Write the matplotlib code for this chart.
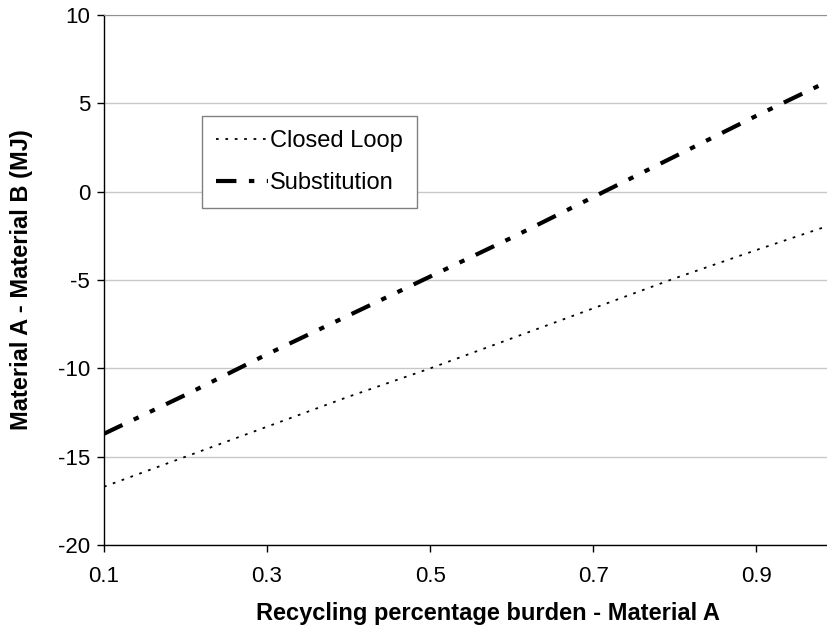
import matplotlib

matplotlib.use("Agg")
import matplotlib.pyplot as plt

plt.rcParams["font.family"] = ["Liberation Sans", "DejaVu Sans"]

# recycling percentage burden of material A
burden = [0.1, 0.2, 0.3, 0.4, 0.5, 0.6, 0.7, 0.8, 0.9, 0.99]
closed_loop = [-16.7, -15.0, -13.3, -11.6, -10.0, -8.3, -6.6, -4.9, -3.3, -1.9]
substitution = [-13.7, -11.5, -9.2, -7.0, -4.8, -2.6, -0.3, 2.0, 4.3, 6.3]

x_ticks = [0.1, 0.3, 0.5, 0.7, 0.9]
y_ticks = [-20, -15, -10, -5, 0, 5, 10]


def main():
    fig = plt.figure(figsize=(8.28, 6.33), dpi=100)
    ax = fig.add_axes([0.1256, 0.139, 0.8744, 0.837])

    ax.plot(burden, closed_loop, color="black", linewidth=1.3,
            linestyle=(0, (1.5, 3.7)), label="Closed Loop")
    ax.plot(burden, substitution, color="black", linewidth=3.0,
            linestyle=(0, (4.9, 3, 1.3, 3, 1.3, 3)), label="Substitution",
            dash_capstyle="butt")

    ax.set_xlim(0.1, 0.988)
    ax.set_ylim(-20, 10)
    ax.set_xticks(x_ticks)
    ax.set_xticklabels([f"{v:.1f}" for v in x_ticks])
    ax.set_yticks(y_ticks)
    ax.set_yticklabels([str(v) for v in y_ticks])

    ax.grid(axis="y", color="#c8c8c8", linewidth=1.0)
    ax.set_axisbelow(True)
    ax.spines["top"].set_color("#909090")
    ax.spines["right"].set_visible(False)
    for side in ("left", "bottom"):
        ax.spines[side].set_color("black")
        ax.spines[side].set_linewidth(1.0)
    ax.tick_params(direction="out", length=5, width=1, labelsize=16, pad=5)
    ax.tick_params(axis="x", pad=10)

    ax.set_xlabel("Recycling percentage burden - Material A", fontsize=17,
                  fontweight="bold")
    ax.xaxis.set_label_coords(0.53, -0.108)
    ax.set_ylabel("Material A - Material B (MJ)", fontsize=17,
                  fontweight="bold")
    ax.yaxis.set_label_coords(-0.098, 0.5)

    legend = ax.legend(loc="upper left", bbox_to_anchor=(0.135, 0.81),
                       fontsize=17, handlelength=2.2, handletextpad=0.1,
                       borderpad=0.6, labelspacing=0.85, borderaxespad=0,
                       fancybox=False, framealpha=1.0, edgecolor="#808080")
    legend.get_frame().set_linewidth(1.0)

    fig.savefig("out.png", dpi=100)
    plt.close(fig)


if __name__ == "__main__":
    main()
